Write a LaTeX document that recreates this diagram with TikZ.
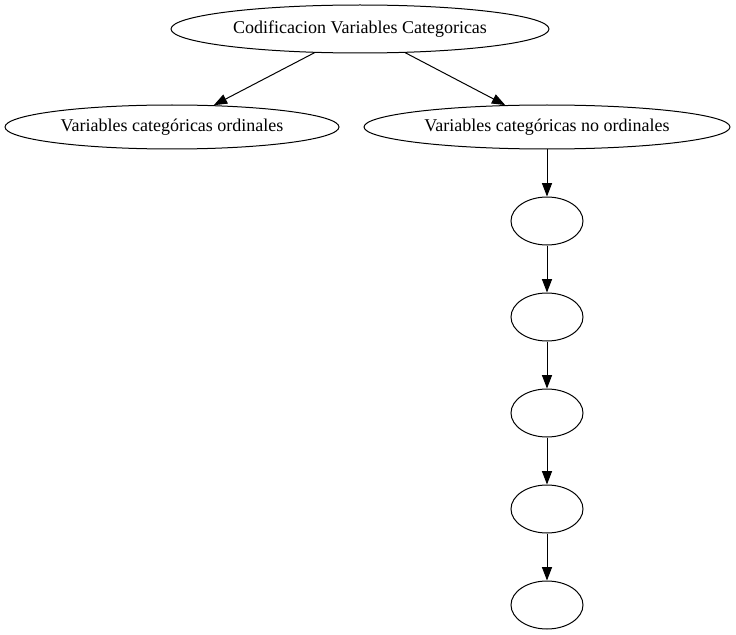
\documentclass[tikz,border=0pt]{standalone}
\usepackage{fontspec}
\setmainfont{Liberation Serif}
\usetikzlibrary{shapes.geometric,arrows.meta}

\begin{document}
\begin{tikzpicture}[x=0.75pt,y=-0.75pt,
		elip/.style={draw, ellipse, inner sep=0pt, line width=0.75pt, font=\fontsize{13.5}{16}\selectfont},
		flecha/.style={line width=0.75pt, -{Triangle[length=10pt,width=7.5pt]}}]
			\useasboundingbox (0,0) rectangle (736,635);
			
			\node[elip, minimum width=283.5pt, minimum height=36pt] (cod) at (360,29) {Codificacion Variables Categoricas};
			
			\node[elip, minimum width=250.5pt, minimum height=33pt] (ord) at (172,127) {Variables categóricas ordinales};
			\node[elip, minimum width=274.5pt, minimum height=33pt] (noord) at (547,127) {Variables categóricas no ordinales};
			
			\node[elip, minimum width=54pt, minimum height=36pt] (a) at (547,221) {};
			\node[elip, minimum width=54pt, minimum height=36pt] (b) at (547,317) {};
			\node[elip, minimum width=54pt, minimum height=36pt] (c) at (547,413) {};
			\node[elip, minimum width=54pt, minimum height=36pt] (d) at (547,509) {};
			\node[elip, minimum width=54pt, minimum height=36pt] (e) at (547,605) {};
			
			\draw[flecha] (cod) -- (ord);
			\draw[flecha] (cod) -- (noord);
			
			\draw[flecha] (noord) -- (a);
			\draw[flecha] (a) -- (b);
			\draw[flecha] (b) -- (c);
			\draw[flecha] (c) -- (d);
			\draw[flecha] (d) -- (e);
		\end{tikzpicture}
\end{document}
